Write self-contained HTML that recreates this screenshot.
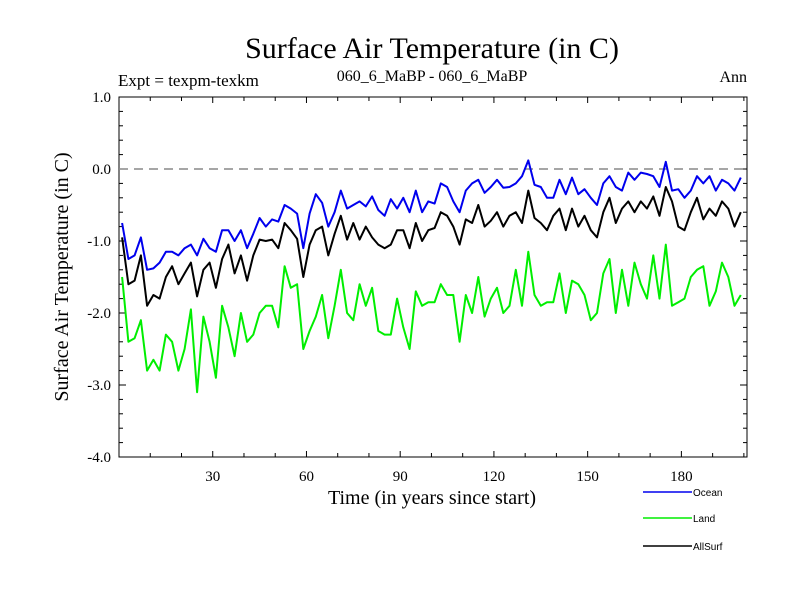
<!DOCTYPE html>
<html><head><meta charset="utf-8"><style>
body{margin:0;background:#fff}
svg text{font-family:"Liberation Serif",serif}
svg text.sans{font-family:"Liberation Sans",sans-serif}
</style></head><body>
<svg id="chart" width="800" height="600" xmlns="http://www.w3.org/2000/svg">
<text x="432" y="58" font-size="30" text-anchor="middle">Surface Air Temperature (in C)</text>
<text x="118" y="86" font-size="17">Expt = texpm-texkm</text>
<text x="432" y="81" font-size="16" text-anchor="middle">060_6_MaBP - 060_6_MaBP</text>
<text x="747" y="82" font-size="16" text-anchor="end">Ann</text>
<text x="432" y="504" font-size="20" text-anchor="middle">Time (in years since start)</text>
<text transform="translate(68,277) rotate(-90)" font-size="20" text-anchor="middle">Surface Air Temperature (in C)</text>
<g id="axes"></g>
<g id="series"></g>
<g id="legend"></g>
</svg>
<script>
const years=[];for(let i=1;i<200;i+=2)years.push(i);
const ocean=[-0.75,-1.25,-1.2,-0.95,-1.4,-1.38,-1.3,-1.15,-1.15,-1.2,-1.1,-1.05,-1.2,-0.97,-1.1,-1.15,-0.85,-0.85,-1.0,-0.85,-1.1,-0.9,-0.68,-0.8,-0.7,
-0.73,-0.5,-0.55,-0.62,-1.1,-0.62,-0.35,-0.47,-0.8,-0.6,-0.3,-0.55,-0.5,-0.45,-0.52,-0.38,-0.57,-0.65,-0.42,-0.55,-0.4,-0.6,-0.3,-0.6,-0.45,
-0.48,-0.2,-0.25,-0.45,-0.6,-0.3,-0.2,-0.15,-0.33,-0.25,-0.15,-0.26,-0.25,-0.2,-0.1,0.12,-0.22,-0.25,-0.4,-0.4,-0.15,-0.35,-0.12,-0.35,-0.28,
-0.4,-0.5,-0.2,-0.1,-0.25,-0.3,-0.05,-0.15,-0.05,-0.07,-0.1,-0.25,0.1,-0.3,-0.28,-0.4,-0.3,-0.1,-0.2,-0.1,-0.3,-0.15,-0.2,-0.3,-0.12];
const allsurf=[-0.95,-1.6,-1.55,-1.2,-1.9,-1.75,-1.8,-1.5,-1.35,-1.6,-1.45,-1.3,-1.77,-1.4,-1.3,-1.65,-1.25,-1.05,-1.45,-1.2,-1.55,-1.2,-0.98,-1.0,-0.98,
-1.1,-0.75,-0.85,-0.97,-1.5,-1.05,-0.85,-0.8,-1.2,-0.9,-0.65,-0.98,-0.75,-0.98,-0.8,-0.95,-1.05,-1.1,-1.05,-0.85,-0.85,-1.1,-0.75,-1.0,-0.85,
-0.82,-0.6,-0.65,-0.8,-1.05,-0.7,-0.75,-0.5,-0.8,-0.72,-0.6,-0.8,-0.65,-0.6,-0.75,-0.3,-0.68,-0.75,-0.85,-0.65,-0.55,-0.85,-0.55,-0.8,-0.65,
-0.85,-0.95,-0.6,-0.4,-0.75,-0.55,-0.45,-0.6,-0.45,-0.55,-0.38,-0.65,-0.25,-0.45,-0.8,-0.85,-0.6,-0.4,-0.7,-0.55,-0.65,-0.45,-0.55,-0.8,-0.6];
const land=[-1.5,-2.4,-2.35,-2.1,-2.8,-2.65,-2.8,-2.3,-2.4,-2.8,-2.5,-1.95,-3.1,-2.05,-2.4,-2.9,-1.9,-2.2,-2.6,-2.0,-2.4,-2.3,-2.0,-1.9,-1.9,
-2.2,-1.35,-1.65,-1.6,-2.5,-2.25,-2.05,-1.75,-2.35,-1.9,-1.4,-2.0,-2.1,-1.6,-1.9,-1.65,-2.25,-2.3,-2.3,-1.8,-2.2,-2.5,-1.7,-1.9,-1.85,
-1.85,-1.6,-1.75,-1.75,-2.4,-1.75,-2.0,-1.5,-2.05,-1.8,-1.65,-2.0,-1.9,-1.4,-1.9,-1.15,-1.75,-1.9,-1.85,-1.85,-1.45,-2.0,-1.55,-1.6,-1.75,
-2.1,-2.0,-1.45,-1.25,-2.0,-1.4,-1.9,-1.3,-1.6,-1.8,-1.2,-1.8,-1.05,-1.9,-1.85,-1.8,-1.5,-1.4,-1.35,-1.9,-1.7,-1.3,-1.5,-1.9,-1.75];
const yTicks=[1.0,0.0,-1.0,-2.0,-3.0,-4.0];
const xTicks=[30,60,90,120,150,180];
const L=119,R=747,T=97,B=457,XMAX=201,YMIN=-4,YMAX=1;
const sx=v=>L+v*(R-L)/XMAX;
const sy=v=>B-(v-YMIN)*(B-T)/(YMAX-YMIN);
const NS="http://www.w3.org/2000/svg";
function mk(tag,attrs,parent){const e=document.createElementNS(NS,tag);for(const k in attrs)e.setAttribute(k,attrs[k]);parent.appendChild(e);return e;}
const axes=document.getElementById('axes');
let fr=mk('rect',{x:L,y:T,width:R-L,height:B-T,fill:'none',stroke:'#000','stroke-width':1},axes);


for(let v=-4;v<=1.001;v+=0.2){const major=Math.abs(v-Math.round(v))<1e-6;const len=major?7:4;
 let t1=mk('line',{x1:L,x2:L+len,y1:sy(v),y2:sy(v),stroke:'#000'},axes);
 
 
 let t2=mk('line',{x1:R,x2:R-len,y1:sy(v),y2:sy(v),stroke:'#000'},axes);
 
 }
yTicks.forEach(v=>{let t=mk('text',{x:L-8,y:sy(v)+5,'font-size':15,'text-anchor':'end'},axes);t.textContent=v.toFixed(1);
 
 });
for(let v=10;v<XMAX;v+=10){const major=v%30===0;const len=major?6:4;
 let t1=mk('line',{x1:sx(v),x2:sx(v),y1:B,y2:B-len,stroke:'#000'},axes);
 
 
 let t2=mk('line',{x1:sx(v),x2:sx(v),y1:T,y2:T+len,stroke:'#000'},axes);
 
 }
xTicks.forEach(v=>{let t=mk('text',{x:sx(v),y:B+24,'font-size':15,'text-anchor':'middle'},axes);t.textContent=v;
 
 });
let z=mk('line',{x1:L,x2:R,y1:sy(0),y2:sy(0),stroke:'#888','stroke-width':1.5,'stroke-dasharray':'9,6'},axes);


const ser=document.getElementById('series');
const defs=[['land-series',land,'#00ee00'],['allsurf-series',allsurf,'#000'],['ocean-series',ocean,'#0000ee']];
defs.forEach(([n,arr,c])=>{const d=arr.map((v,i)=>(i?'L':'M')+sx(years[i]).toFixed(1)+','+sy(v).toFixed(1)).join('');
 let p=mk('path',{d:d,fill:'none',stroke:c,'stroke-width':2,'stroke-linejoin':'round'},ser);
 
 });
const leg=document.getElementById('legend');
[['Ocean','#0000ee',492],['Land','#00ee00',518],['AllSurf','#000',546]].forEach(([n,c,y])=>{
 let g=mk('g',{},leg);
 
 
 mk('line',{x1:643,x2:692,y1:y,y2:y,stroke:c,'stroke-width':1.5},g);
 let t=mk('text',{x:693,y:y+4,'font-size':10,'class':'sans'},g);t.textContent=n;});
</script>
</body></html>
